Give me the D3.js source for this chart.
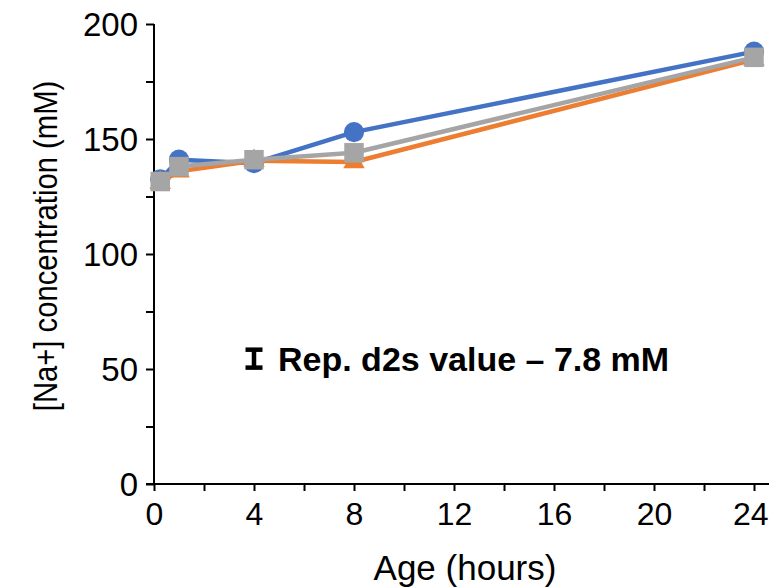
<!DOCTYPE html>
<html><head><meta charset="utf-8">
<script src="https://cdn.jsdelivr.net/npm/d3@7"></script>
<style>body{margin:0;background:#fff}svg{display:block}text{font-family:"Liberation Sans",Arial,sans-serif}</style>
</head><body><svg id="c" width="769" height="588"></svg>
<script>
const hours = [0.25, 1, 4, 8, 24];
const blueVals = [132.5, 141, 139.5, 153, 188];
const orangeVals = [131, 136, 140.5, 140, 184.5];
const grayVals = [131.5, 138, 141, 144, 185.5];
const xTickLabels = [0, 4, 8, 12, 16, 20, 24];
const yTickLabels = [0, 50, 100, 150, 200];
const repValue = 7.8;   // d2s value in mM
const repAt = [4, 54.5]; // position of the representative error bar
const annotation = "Rep. d2s value \u2013 7.8 mM";

const svg = d3.select("#c");
const x = d3.scaleLinear().domain([0, 24]).range([154, 754]);
const y = d3.scaleLinear().domain([0, 200]).range([484, 24]);

// axes
const xAxis = d3.axisBottom(x).tickValues(d3.range(0, 25, 2)).tickSize(7).tickFormat(d => xTickLabels.includes(d) ? d : "");
const gx = svg.append("g").attr("transform", "translate(0,484)").call(xAxis);
gx.select(".domain").remove();
gx.append("line").attr("x1", 146).attr("x2", 769).attr("stroke", "#000").attr("stroke-width", 2);
gx.selectAll(".tick line").attr("stroke-width", 2);
gx.selectAll(".tick text").attr("font-size", 32).attr("fill", "#000").attr("y", 10).attr("dy", "0.97em");
gx.selectAll(".tick text").filter(d => d === 24).attr("text-anchor", "end").attr("x", 14);

const yAxis = d3.axisLeft(y).tickValues(d3.range(0, 201, 25)).tickSize(8).tickFormat(d => yTickLabels.includes(d) ? d : "");
const gy = svg.append("g").attr("transform", "translate(154,0)").call(yAxis);
gy.select(".domain").remove();
gy.append("line").attr("y1", 24).attr("y2", 484).attr("stroke", "#000").attr("stroke-width", 2);
gy.selectAll(".tick line").attr("stroke-width", 2);
gy.selectAll(".tick text").attr("font-size", 33).attr("fill", "#000").attr("x", -16).attr("dy", "0.36em");

// titles
svg.append("text").attr("x", 465).attr("y", 580).attr("text-anchor", "middle").attr("font-size", 35).text("Age (hours)");
svg.append("text").attr("transform", "translate(57,246) rotate(-90) scale(0.86,1)").attr("text-anchor", "middle").attr("font-size", 34).text("[Na+] concentration (mM)");

// series
const series = [
  {vals: blueVals, color: "#4472C4", shape: "circle"},
  {vals: orangeVals, color: "#ED7D31", shape: "triangle"},
  {vals: grayVals, color: "#A5A5A5", shape: "square"}
];
const line = d3.line().x(d => x(d[0])).y(d => y(d[1]));
series.forEach(s => {
  const pts = hours.map((h, i) => [h, s.vals[i]]);
  const g = svg.append("g");
  g.append("path").attr("d", line(pts)).attr("fill", "none").attr("stroke", s.color).attr("stroke-width", 4.5).attr("stroke-linejoin", "round");
  const sym = s.shape === "circle" ? d3.symbolCircle : s.shape === "triangle" ? d3.symbolTriangle : d3.symbolSquare;
  const size = s.shape === "circle" ? 320 : s.shape === "triangle" ? 200 : 380;
  g.selectAll("path.m").data(pts).join("path").attr("class", "m")
    .attr("transform", d => `translate(${x(d[0])},${y(d[1])})`)
    .attr("d", d3.symbol().type(sym).size(size)).attr("fill", s.color);
});

// representative error bar
const eb = svg.append("g").attr("stroke", "#000").attr("stroke-width", 4.5);
const ex = x(repAt[0]), ylo = y(repAt[1] - repValue / 2), yhi = y(repAt[1] + repValue / 2);
eb.append("line").attr("x1", ex).attr("x2", ex).attr("y1", ylo).attr("y2", yhi);
eb.append("line").attr("x1", ex - 8.5).attr("x2", ex + 8.5).attr("y1", ylo).attr("y2", ylo);
eb.append("line").attr("x1", ex - 8.5).attr("x2", ex + 8.5).attr("y1", yhi).attr("y2", yhi);
svg.append("text").attr("x", 278).attr("y", 371).attr("font-size", 34).attr("font-weight", "bold").text(annotation);
</script></body></html>
